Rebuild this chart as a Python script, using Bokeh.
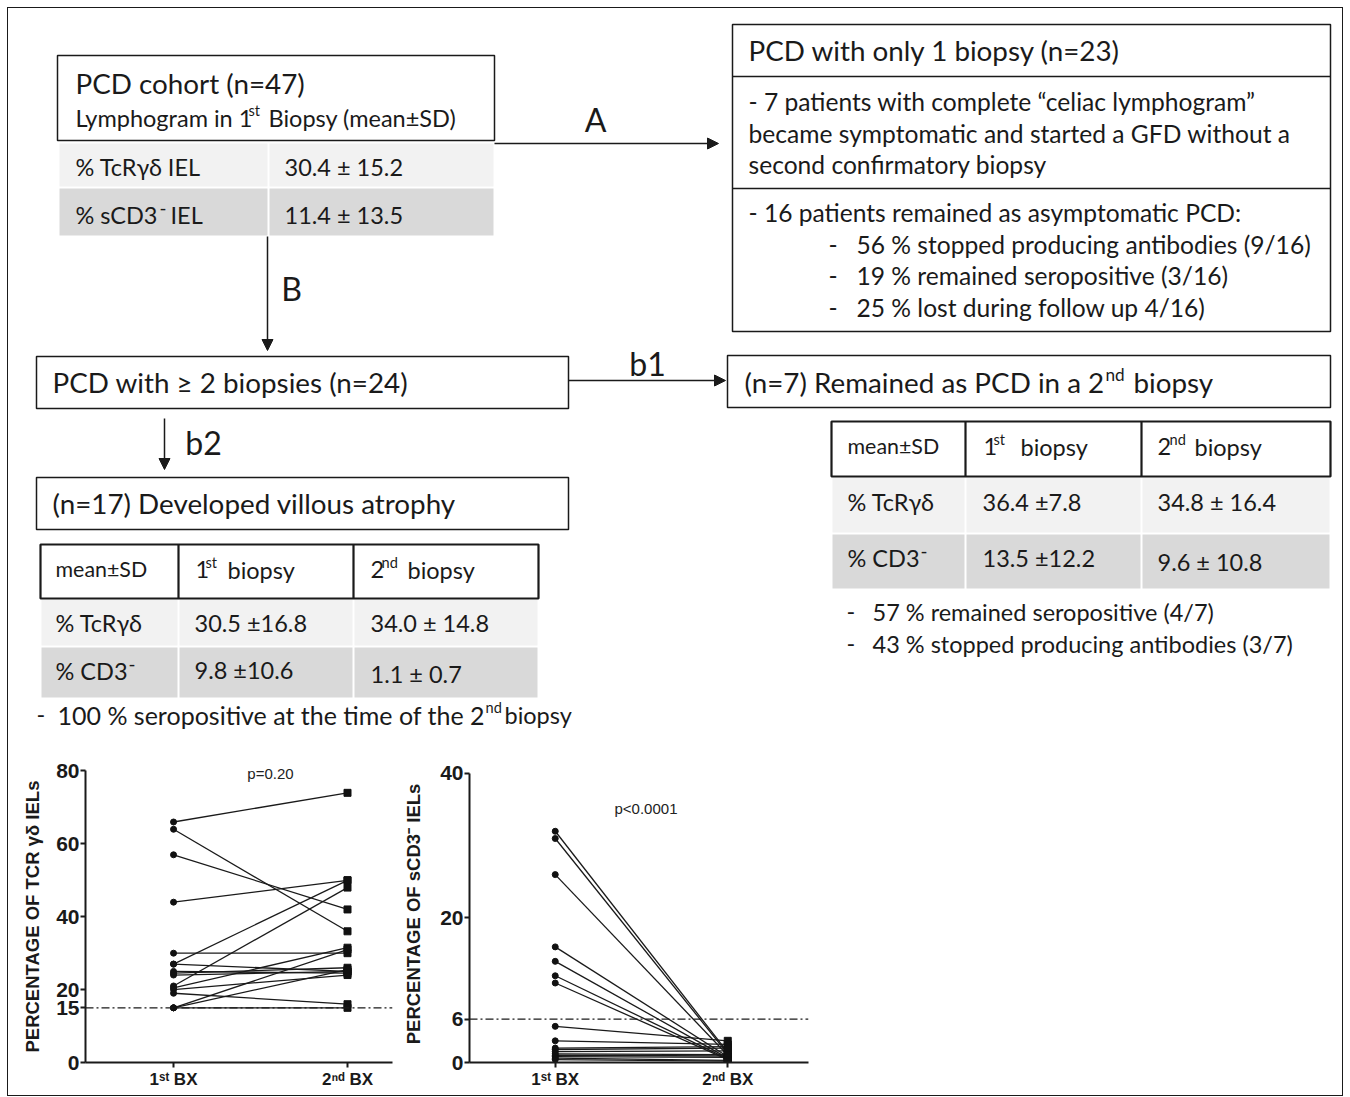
from bokeh.plotting import figure
from bokeh.models import Range1d, Arrow, NormalHead, Span, Label, FixedTicker, ColumnDataSource, Spacer
from bokeh.layouts import column, row
from bokeh.embed import file_html
from bokeh.resources import INLINE
from bokeh.core.properties import value

# ---------------- data ----------------
bx_labels = {1: "1\u02e2\u1d57 BX", 2: "2\u207f\u1d48 BX"}
tcr_first = [66, 64, 57, 44, 30, 27, 27, 25, 24.5, 24, 21, 20.5, 20, 19, 15, 15, 15]
tcr_second = [74, 36, 42, 50, 30, 50, 25, 24.5, 26, 25, 48, 31.5, 24, 16, 31, 25.5, 15]
cd3_first = [32, 31, 26, 16, 14, 12, 11, 5, 3, 2, 1.8, 1.5, 1.2, 1.0, 0.8, 0.6, 0.4]
cd3_second = [1.4, 1.2, 1.0, 0.8, 0.6, 0.5, 0.4, 3.0, 2.5, 2.2, 2.0, 1.6, 1.1, 0.9, 0.7, 0.3, 0.2]
tcr_ticks = [0, 15, 20, 40, 60, 80]
cd3_ticks = [0, 6, 20, 40]
tcr_threshold = 15
cd3_threshold = 6
tcr_p = "p=0.20"
cd3_p = "p<0.0001"

FONT = "Lato"
FS = 1.07  # scale from reference size estimates to Lato
CH = "Liberation Sans"
INK = "#1a1a1a"

# ---------------- diagram ----------------
W, HT = 1334, 740
d = figure(width=W, height=HT, x_range=Range1d(8, 8 + W), y_range=Range1d(8 + HT, 8),
           output_backend="svg", toolbar_location=None, min_border=0, title=None,
           x_axis_location=None, y_axis_location=None)
d.grid.visible = False
d.outline_line_color = None

LIGHT, DARK = "#f2f2f2", "#d9d9d9"

cells = [
    (59, 267, 143, 186, LIGHT), (269, 493, 143, 186, LIGHT),
    (59, 267, 188, 235, DARK), (269, 493, 188, 235, DARK),
    (41, 177, 599, 645, LIGHT), (179, 352, 599, 645, LIGHT), (354, 537, 599, 645, LIGHT),
    (41, 177, 647, 697, DARK), (179, 352, 647, 697, DARK), (354, 537, 647, 697, DARK),
    (832, 964, 477, 532, LIGHT), (966, 1140, 477, 532, LIGHT), (1142, 1329, 477, 532, LIGHT),
    (832, 964, 534, 588, DARK), (966, 1140, 534, 588, DARK), (1142, 1329, 534, 588, DARK),
]
d.quad(left=[c[0] for c in cells], right=[c[1] for c in cells], top=[c[2] for c in cells],
       bottom=[c[3] for c in cells], fill_color=[c[4] for c in cells], line_color=None)

boxes = [(57, 494, 55, 140), (732, 1330, 24, 331), (36, 568, 356, 408),
         (727, 1330, 355, 407), (36, 568, 477, 529)]
d.quad(left=[b[0] for b in boxes], right=[b[1] for b in boxes], top=[b[2] for b in boxes],
       bottom=[b[3] for b in boxes], fill_color=None, line_color=INK, line_width=1.5)
heads = [(40, 538, 544, 598), (831, 1330, 421, 476)]
d.quad(left=[b[0] for b in heads], right=[b[1] for b in heads], top=[b[2] for b in heads],
       bottom=[b[3] for b in heads], fill_color=None, line_color=INK, line_width=2.2)
d.segment(x0=[178, 353, 965, 1141], y0=[544, 544, 421, 421], x1=[178, 353, 965, 1141],
          y1=[598, 598, 476, 476], line_color=INK, line_width=2.2)
d.segment(x0=[732, 732], y0=[76, 188], x1=[1330, 1330], y1=[76, 188], line_color=INK, line_width=1.5)

for (xs, ys, xe, ye) in [(494, 143, 718, 143), (267, 236, 267, 350), (568, 380, 725, 380), (164, 418, 164, 469)]:
    d.add_layout(Arrow(end=NormalHead(size=11, fill_color=INK, line_color=INK),
                       x_start=xs, y_start=ys, x_end=xe, y_end=ye, line_width=1.5, line_color=INK))

texts = []
sups = []

def t(s, x, y, size):
    texts.append((s, x, y, size))

def sup(s, x, y, size, k=0.62):
    sups.append((s, x, y, size, k))

t("PCD cohort (n=47)", 75, 83, 26)
t("Lymphogram in 1", 75, 117, 22); sup("st", 248, 117, 22); t("Biopsy (mean\u00b1SD)", 268, 117, 22)
t("% TcR\u03b3\u03b4 IEL", 75, 166, 22); t("30.4 \u00b1 15.2", 284, 166, 22)
t("% sCD3", 75, 214, 22); sup("-", 159, 214, 22, 0.8); t("IEL", 170, 214, 22); t("11.4 \u00b1 13.5", 284, 214, 22)

t("PCD with only 1 biopsy (n=23)", 748, 50, 26)
t("- 7 patients with complete \u201cceliac lymphogram\u201d", 748, 101, 23)
t("became symptomatic and started a GFD without a", 748, 133, 23)
t("second confirmatory biopsy", 748, 164, 23)
t("- 16 patients remained as asymptomatic PCD:", 748, 212, 23)
for yy, s in [(244, "56 % stopped producing antibodies (9/16)"),
              (275, "19 % remained seropositive (3/16)"),
              (307, "25 % lost during follow up 4/16)")]:
    t("-", 828, yy, 23); t(s, 856, yy, 23)

t("PCD with \u2265 2 biopsies (n=24)", 52, 382, 26)
t("(n=7) Remained as PCD in a 2", 744, 382, 26); sup("nd", 1105, 382, 26); t("biopsy", 1133, 382, 26)
t("(n=17) Developed villous atrophy", 52, 503, 26)

t("mean\u00b1SD", 55, 568, 20)
t("1", 195, 569, 22); sup("st", 205, 569, 22); t("biopsy", 227, 569, 22)
t("2", 370, 569, 22); sup("nd", 381, 569, 22); t("biopsy", 407, 569, 22)
t("% TcR\u03b3\u03b4", 55, 622, 22); t("30.5 \u00b116.8", 194, 622, 22); t("34.0 \u00b1 14.8", 370, 622, 22)
t("% CD3", 55, 670, 22); sup("-", 128, 670, 22, 0.8); t("9.8 \u00b110.6", 194, 669, 22); t("1.1 \u00b1 0.7", 370, 673, 22)
t("-", 36, 714, 22); t("100 % seropositive at the time of the 2", 57, 714, 23.4); sup("nd", 485, 714, 22); t("biopsy", 504, 714, 22)

t("mean\u00b1SD", 847, 445, 20)
t("1", 983, 446, 22); sup("st", 993, 446, 22); t("biopsy", 1020, 446, 22)
t("2", 1157, 446, 22); sup("nd", 1169, 446, 22); t("biopsy", 1194, 446, 22)
t("% TcR\u03b3\u03b4", 847, 501, 22); t("36.4 \u00b17.8", 982, 501, 22); t("34.8 \u00b1 16.4", 1157, 501, 22)
t("% CD3", 847, 557, 22); sup("-", 920, 557, 22, 0.8); t("13.5 \u00b112.2", 982, 557, 22); t("9.6 \u00b1 10.8", 1157, 561, 22)
for yy, s in [(611, "57 % remained seropositive (4/7)"), (643, "43 % stopped producing antibodies (3/7)")]:
    t("-", 846, yy, 22); t(s, 872, yy, 22)

src = ColumnDataSource(dict(x=[a[1] for a in texts], y=[a[2] for a in texts], text=[a[0] for a in texts],
                            size=["%.1fpx" % (a[3] * FS) for a in texts]))
d.text(x="x", y="y", text="text", text_font_size="size", source=src, text_font=value(FONT),
       text_baseline="middle", text_align="left", text_color=INK)
ssrc = ColumnDataSource(dict(x=[a[1] for a in sups], y=[a[2] - 0.3 * a[3] for a in sups], text=[a[0] for a in sups],
                             size=["%.1fpx" % (a[3] * a[4] * FS) for a in sups]))
d.text(x="x", y="y", text="text", text_font_size="size", source=ssrc, text_font=value(FONT),
       text_baseline="middle", text_align="left", text_color=INK)

letters = [("A", 595, 119), ("B", 291, 288), ("b1", 647, 363), ("b2", 203, 442)]
d.text(x=[l[1] for l in letters], y=[l[2] for l in letters], text=[l[0] for l in letters],
       text_font=value(FONT), text_font_size="%.1fpx" % (30 * FS), text_baseline="middle",
       text_align="center", text_color=INK)

# ---------------- charts ----------------
HB = 347

def chart(width, ml, mr, xr, ytop, ymax, ticks, ylabel, lab_standoff, first, second, thr, ptxt, px, py):
    p = figure(width=width, height=HB, x_range=Range1d(*xr), y_range=Range1d(0, ytop),
               min_border_left=ml, min_border_right=mr, min_border_top=17, min_border_bottom=33,
               output_backend="svg", toolbar_location=None, title=None)
    p.grid.visible = False
    p.outline_line_color = None
    p.xaxis.ticker = FixedTicker(ticks=[1, 2])
    p.xaxis.major_label_overrides = bx_labels
    p.yaxis.ticker = FixedTicker(ticks=ticks)
    p.yaxis.bounds = (0, ymax)
    p.yaxis.minor_tick_line_color = None
    p.xaxis.minor_tick_line_color = None
    for ax in (p.xaxis, p.yaxis):
        ax.axis_line_width = 2
        ax.major_tick_line_width = 2
        ax.major_tick_out = 5
        ax.major_tick_in = 0
        ax.major_label_text_font = CH
        ax.major_label_text_font_style = "bold"
        ax.major_label_text_color = INK
        ax.axis_line_color = INK
        ax.major_tick_line_color = INK
    p.yaxis.major_label_text_font_size = "21px"
    p.xaxis.major_label_text_font_size = "17px"
    p.xaxis.major_label_standoff = 2
    p.yaxis.major_label_standoff = 1
    p.yaxis.axis_label = ylabel
    p.yaxis.axis_label_text_font = CH
    p.yaxis.axis_label_text_font_style = "bold"
    p.yaxis.axis_label_text_font_size = "18.5px"
    p.yaxis.axis_label_text_color = INK
    p.yaxis.axis_label_standoff = lab_standoff
    p.add_layout(Span(location=thr, dimension="width", line_color=INK, line_width=1.2,
                      line_dash="8 3 2 3"))
    p.multi_line(xs=[[1, 2] for _ in first], ys=[[a, b] for a, b in zip(first, second)],
                 line_color=INK, line_width=1.3)
    p.scatter(x=[1] * len(first), y=first, marker="circle", size=6, color="#111111")
    p.scatter(x=[2] * len(second), y=second, marker="square", size=7, color="#111111")
    p.add_layout(Label(x=px, y=py, text=ptxt, text_font=CH, text_font_size="15px",
                       text_align="center", text_baseline="middle", text_color="#222222"))
    return p

c1 = chart(392, 77, 8, (0.494, 2.2586), 81.5, 80, tcr_ticks, "PERCENTAGE OF TCR \u03b3\u03b4  IELs", 10,
           tcr_first, tcr_second, tcr_threshold, tcr_p, 1.557, 79.3)
c2 = chart(430, 68, 22, (0.503, 2.468), 41.1, 40, cd3_ticks, "PERCENTAGE OF sCD3\u207b IELs", 13,
           cd3_first, cd3_second, cd3_threshold, cd3_p, 1.526, 35.2)

layout = column(d, row(c1, c2, Spacer(width=W - 392 - 430, height=HB)),
                margin=(8, 8, 8, 8),
                styles={"outline": "1.5px solid #1a1a1a", "outline-offset": "0px"})

open("out.html", "w").write(file_html(layout, INLINE))
